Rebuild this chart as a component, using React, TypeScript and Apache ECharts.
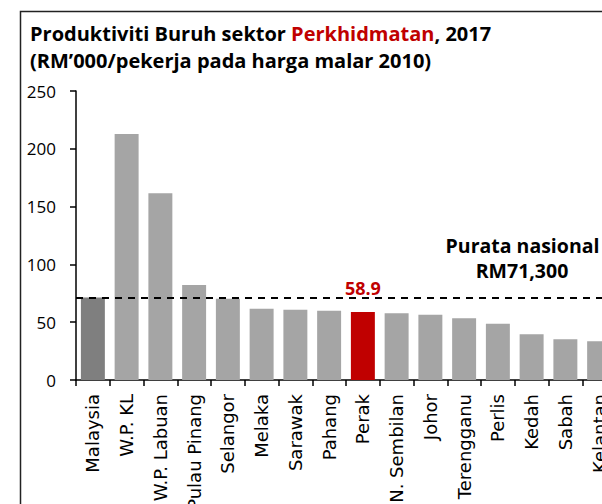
import React, { useEffect, useRef } from "react";
import * as echarts from "echarts";

const categories = [
  "Malaysia", "W.P. KL", "W.P. Labuan", "Pulau Pinang", "Selangor", "Melaka",
  "Sarawak", "Pahang", "Perak", "N. Sembilan", "Johor", "Terengganu",
  "Perlis", "Kedah", "Sabah", "Kelantan",
];
const productivity = [
  71.3, 212.8, 161.5, 82.2, 70.3, 61.7, 60.8, 60.0, 58.9, 57.7, 56.5, 53.4,
  48.7, 39.5, 35.2, 33.5,
];
const nationalAverage = 71.3;
const highlighted = "Perak";
const yTicks = [0, 50, 100, 150, 200, 250];
const averageNote = ["Purata nasional", "RM71,300"];

const FONT = "Open Sans";
const LABEL_FONT = "DejaVu Sans";

export default function App() {
  const ref = useRef<HTMLDivElement>(null);

  useEffect(() => {
    if (!ref.current) return;
    const chart = echarts.init(ref.current, null, { renderer: "svg" });

    const barData = productivity.map((v, i) => {
      const name = categories[i];
      let color = "#a5a5a5";
      if (name === "Malaysia") color = "#7f7f7f";
      if (name === highlighted) color = "#c00000";
      const item: any = { value: v, itemStyle: { color } };
      if (name === highlighted) {
        item.label = {
          show: true,
          position: "top",
          distance: 15,
          formatter: (p: any) => Number(p.value).toFixed(1),
          color: "#c00000",
          fontFamily: FONT,
          fontWeight: "bold",
          fontSize: 18,
        };
      }
      return item;
    });

    const noteStyle = {
      fontFamily: FONT,
      fontWeight: "bold",
      fontSize: 19.5,
      align: "center",
      verticalAlign: "middle",
      fill: "#000000",
    };

    chart.setOption({
      animation: false,
      backgroundColor: "#ffffff",
      graphic: [
        {
          type: "rect",
          shape: { x: 20.5, y: 11.5, width: 800, height: 800 },
          style: { fill: "none", stroke: "#222222", lineWidth: 1.5 },
          z: 0,
        },
        {
          type: "text",
          x: 30,
          y: 20,
          style: {
            text: "{b|Produktiviti Buruh sektor }{r|Perkhidmatan}{b|, 2017}\n{b|(RM\u2019000/pekerja pada harga malar 2010)}",
            rich: {
              b: { fontFamily: FONT, fontWeight: "bold", fontSize: 20, fill: "#000000", lineHeight: 27 },
              r: { fontFamily: FONT, fontWeight: "bold", fontSize: 20, fill: "#c00000", lineHeight: 27 },
            },
          },
          z: 10,
        },
        {
          type: "text",
          x: 522.5,
          y: 245.5,
          style: { ...noteStyle, text: averageNote[0] },
          z: 10,
        },
        {
          type: "text",
          x: 522,
          y: 270.5,
          style: { ...noteStyle, text: averageNote[1] },
          z: 10,
        },
      ],
      grid: { left: 76, top: 91, width: 540, height: 289, containLabel: false },
      xAxis: {
        type: "category",
        data: categories,
        axisLine: { lineStyle: { color: "#000000", width: 1.5 } },
        axisTick: { show: true, length: 6, interval: 0, lineStyle: { color: "#000000", width: 1.5 } },
        axisLabel: {
          interval: 0,
          rotate: 90,
          margin: 14,
          fontFamily: LABEL_FONT,
          fontSize: 18,
          color: "#000000",
        },
      },
      yAxis: {
        type: "value",
        min: yTicks[0],
        max: yTicks[yTicks.length - 1],
        interval: 50,
        axisLine: { show: true, lineStyle: { color: "#000000", width: 1.5 } },
        axisTick: { show: true, length: 6, lineStyle: { color: "#000000", width: 1.5 } },
        axisLabel: { fontFamily: FONT, fontSize: 17, color: "#000000", margin: 20 },
        splitLine: { show: false },
      },
      series: [
        {
          type: "line",
          data: [],
          z: 1,
          silent: true,
          markLine: {
            silent: true,
            symbol: "none",
            label: { show: false },
            lineStyle: { color: "#000000", type: [7, 6], width: 2 },
            data: [{ yAxis: nationalAverage }],
          },
        },
        {
          type: "bar",
          data: barData,
          barCategoryGap: "29%",
          z: 3,
        },
      ],
    });

    return () => chart.dispose();
  }, []);

  return (
    <div
      style={{
        position: "fixed",
        left: 0,
        top: 0,
        width: 602,
        height: 504,
        overflow: "hidden",
        background: "#ffffff",
      }}
    >
      <div ref={ref} style={{ width: 640, height: 560 }} />
    </div>
  );
}
